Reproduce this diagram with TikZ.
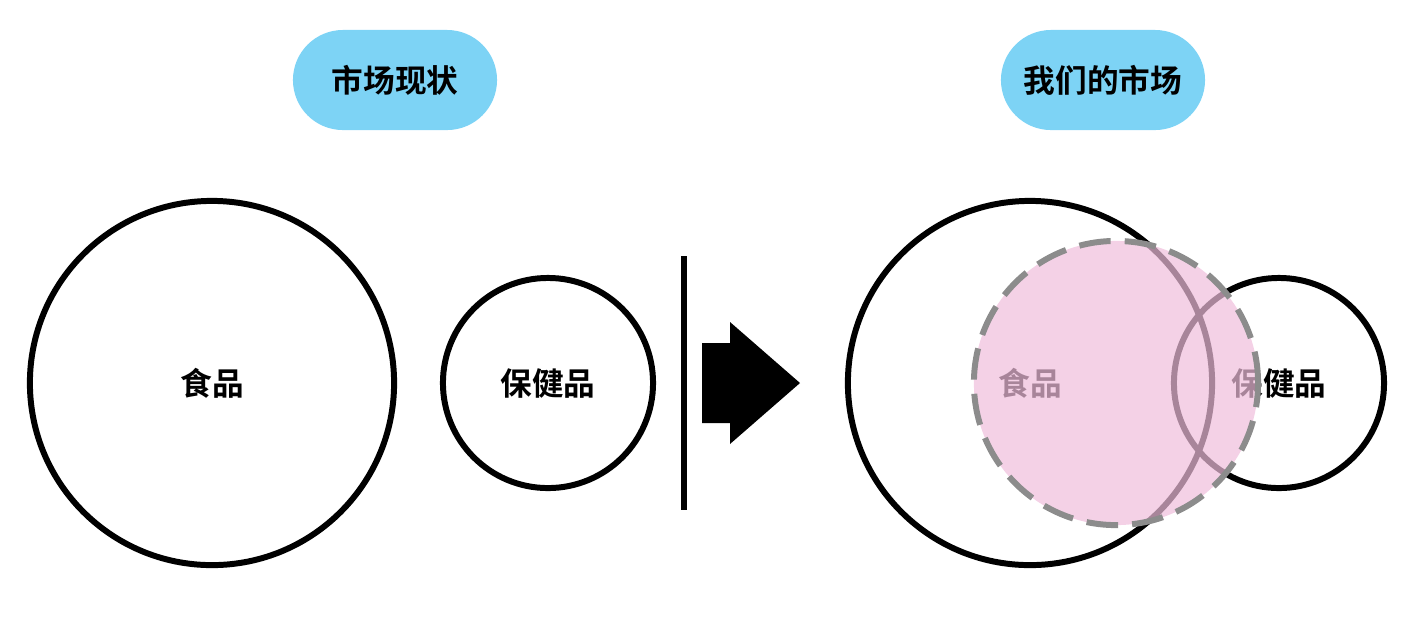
\documentclass[tikz,border=0pt]{standalone}
\usepackage{fontspec}
\newfontfamily\cjk{Noto Sans CJK SC}[BoldFont={Noto Sans CJK SC Bold}]
\definecolor{pillblue}{RGB}{125,211,245}
\definecolor{pinkfill}{RGB}{240,190,220}
\tikzstyle{pill}=[rounded corners=0.5cm,fill=pillblue,minimum width=2.04cm,minimum height=1cm,font=\cjk\bfseries\fontsize{9}{9}\selectfont]
\tikzstyle{ring}=[circle,draw=black,line width=1.7pt,inner sep=0pt,font=\cjk\bfseries\fontsize{9}{9}\selectfont]
\begin{document}
\begin{tikzpicture}[x=0.01cm,y=-0.01cm]
	\useasboundingbox (0,0) rectangle (1426,632);

	% Titel
	\node(now) at (395,80) [pill] {市场现状};
	\node(ours) at (1103,80) [pill] {我们的市场};

	% Linke Seite
	\node(food) at (212,383) [ring, minimum size=3.64cm] {食品};
	\node(health) at (548,383) [ring, minimum size=2.1cm] {保健品};

	% Trenner und Pfeil
	\coordinate(top) at (684,256);
	\coordinate(bot) at (684,510);
	\draw[line width=1.7pt] (top) -- (bot);
	\fill (702,343) -- (730,343) -- (730,322) -- (800,383) -- (730,444) -- (730,423) -- (702,423) -- cycle;

	% Rechte Seite
	\node(foodR) at (1030,383) [ring, minimum size=3.64cm] {食品};
	\node(healthR) at (1279,383) [ring, minimum size=2.1cm] {保健品};
	\node(ourmarket) at (1116,383) [circle, minimum size=2.84cm, fill=pinkfill, fill opacity=0.7, draw=black!45, line width=1.7pt, dash pattern=on 9pt off 4pt] {};
\end{tikzpicture}
\end{document}
